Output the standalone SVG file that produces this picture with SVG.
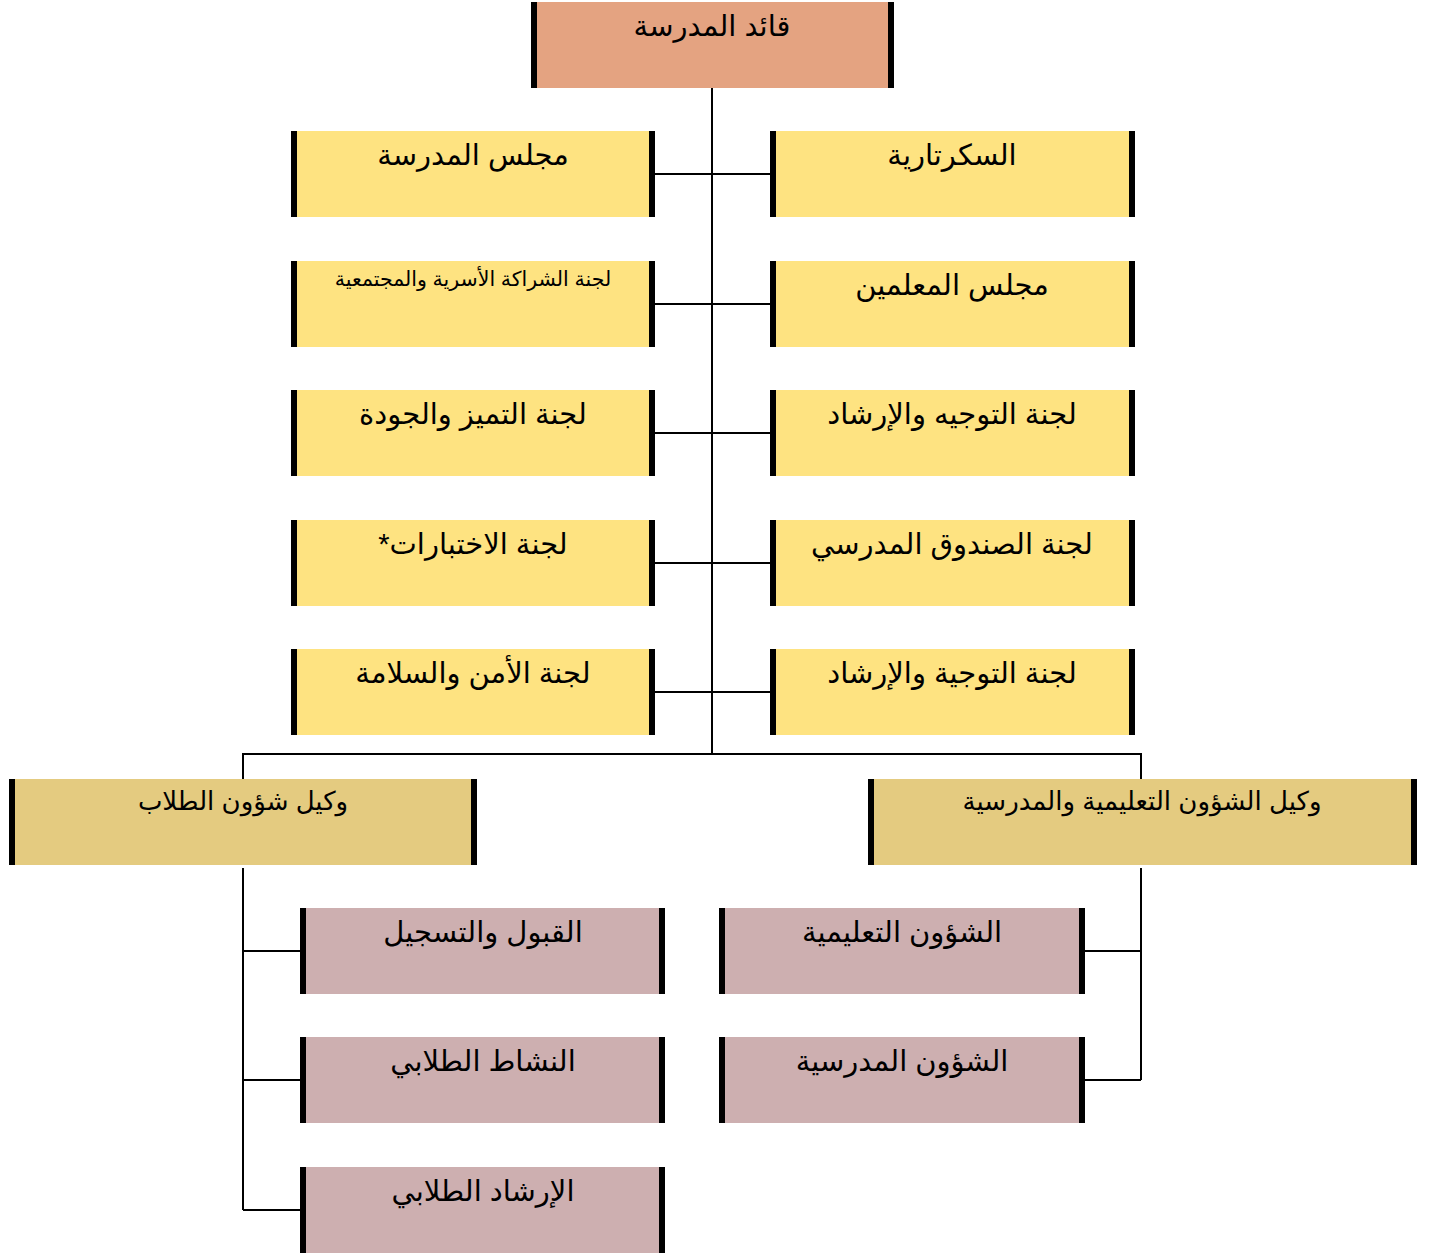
<svg xmlns="http://www.w3.org/2000/svg" width="1429" height="1253" viewBox="0 0 1429 1253">
<style>
.t{font-family:"Liberation Sans","DejaVu Sans",Arial,sans-serif;font-size:29px;fill:#000;text-anchor:middle;direction:rtl}
.s{font-size:20.5px}
.bar{fill:#000}
.lead{fill:#E4A381}
.y{fill:#FEE381}
.m{fill:#E4CB80}
.p{fill:#CDAFB0}
.c{stroke:#000;stroke-width:2;fill:none}
</style>
<defs>
<g id="bars"><rect x="0" y="0" width="6" height="86" class="bar"/></g>
</defs>
<rect width="1429" height="1253" fill="#fff"/>
<g id="connectors">
<path class="c" d="M712 88V754M655 174H770M655 304H770M655 433H770M655 563H770M655 692H770M243 779V754H1141V779"/>
<path class="c" d="M243 868V1210M243 951H301M243 1080H301M243 1210H301"/>
<path class="c" d="M1141 868V1080M1083 951H1141M1083 1080H1141"/>
</g>
<g id="n-leader"><rect x="531" y="2" width="363" height="86" class="lead"/><use href="#bars" x="531" y="2"/><use href="#bars" x="888" y="2"/><text x="712" y="36" class="t">قائد المدرسة</text></g>
<g id="n-school-council"><rect x="291" y="131" width="364" height="86" class="y"/><use href="#bars" x="291" y="131"/><use href="#bars" x="649" y="131"/><text x="473" y="165" class="t">مجلس المدرسة</text></g>
<g id="n-secretariat"><rect x="770" y="131" width="365" height="86" class="y"/><use href="#bars" x="770" y="131"/><use href="#bars" x="1129" y="131"/><text x="952" y="165" class="t">السكرتارية</text></g>
<g id="n-partnership"><rect x="291" y="261" width="364" height="86" class="y"/><use href="#bars" x="291" y="261"/><use href="#bars" x="649" y="261"/><text x="473" y="286" class="t s">لجنة الشراكة الأسرية والمجتمعية</text></g>
<g id="n-teachers-council"><rect x="770" y="261" width="365" height="86" class="y"/><use href="#bars" x="770" y="261"/><use href="#bars" x="1129" y="261"/><text x="952" y="295" class="t">مجلس المعلمين</text></g>
<g id="n-excellence"><rect x="291" y="390" width="364" height="86" class="y"/><use href="#bars" x="291" y="390"/><use href="#bars" x="649" y="390"/><text x="473" y="424" class="t">لجنة التميز والجودة</text></g>
<g id="n-guidance1"><rect x="770" y="390" width="365" height="86" class="y"/><use href="#bars" x="770" y="390"/><use href="#bars" x="1129" y="390"/><text x="952" y="424" class="t">لجنة التوجيه والإرشاد</text></g>
<g id="n-exams"><rect x="291" y="520" width="364" height="86" class="y"/><use href="#bars" x="291" y="520"/><use href="#bars" x="649" y="520"/><text x="473" y="554" class="t">لجنة الاختبارات*</text></g>
<g id="n-fund"><rect x="770" y="520" width="365" height="86" class="y"/><use href="#bars" x="770" y="520"/><use href="#bars" x="1129" y="520"/><text x="952" y="554" class="t">لجنة الصندوق المدرسي</text></g>
<g id="n-safety"><rect x="291" y="649" width="364" height="86" class="y"/><use href="#bars" x="291" y="649"/><use href="#bars" x="649" y="649"/><text x="473" y="683" class="t">لجنة الأمن والسلامة</text></g>
<g id="n-guidance2"><rect x="770" y="649" width="365" height="86" class="y"/><use href="#bars" x="770" y="649"/><use href="#bars" x="1129" y="649"/><text x="952" y="683" class="t">لجنة التوجية والإرشاد</text></g>
<g id="n-students-agent"><rect x="9" y="779" width="468" height="86" class="m"/><use href="#bars" x="9" y="779"/><use href="#bars" x="471" y="779"/><text x="243" y="810" class="t" style="font-size:26px">وكيل شؤون الطلاب</text></g>
<g id="n-edu-agent"><rect x="868" y="779" width="549" height="86" class="m"/><use href="#bars" x="868" y="779"/><use href="#bars" x="1411" y="779"/><text x="1142" y="810" class="t" style="font-size:26px">وكيل الشؤون التعليمية والمدرسية</text></g>
<g id="n-admission"><rect x="300" y="908" width="365" height="86" class="p"/><use href="#bars" x="300" y="908"/><use href="#bars" x="659" y="908"/><text x="483" y="942" class="t">القبول والتسجيل</text></g>
<g id="n-edu-affairs"><rect x="719" y="908" width="366" height="86" class="p"/><use href="#bars" x="719" y="908"/><use href="#bars" x="1079" y="908"/><text x="902" y="942" class="t">الشؤون التعليمية</text></g>
<g id="n-activity"><rect x="300" y="1037" width="365" height="86" class="p"/><use href="#bars" x="300" y="1037"/><use href="#bars" x="659" y="1037"/><text x="483" y="1071" class="t">النشاط الطلابي</text></g>
<g id="n-school-affairs"><rect x="719" y="1037" width="366" height="86" class="p"/><use href="#bars" x="719" y="1037"/><use href="#bars" x="1079" y="1037"/><text x="902" y="1071" class="t">الشؤون المدرسية</text></g>
<g id="n-counseling"><rect x="300" y="1167" width="365" height="86" class="p"/><use href="#bars" x="300" y="1167"/><use href="#bars" x="659" y="1167"/><text x="483" y="1201" class="t">الإرشاد الطلابي</text></g>
</svg>
